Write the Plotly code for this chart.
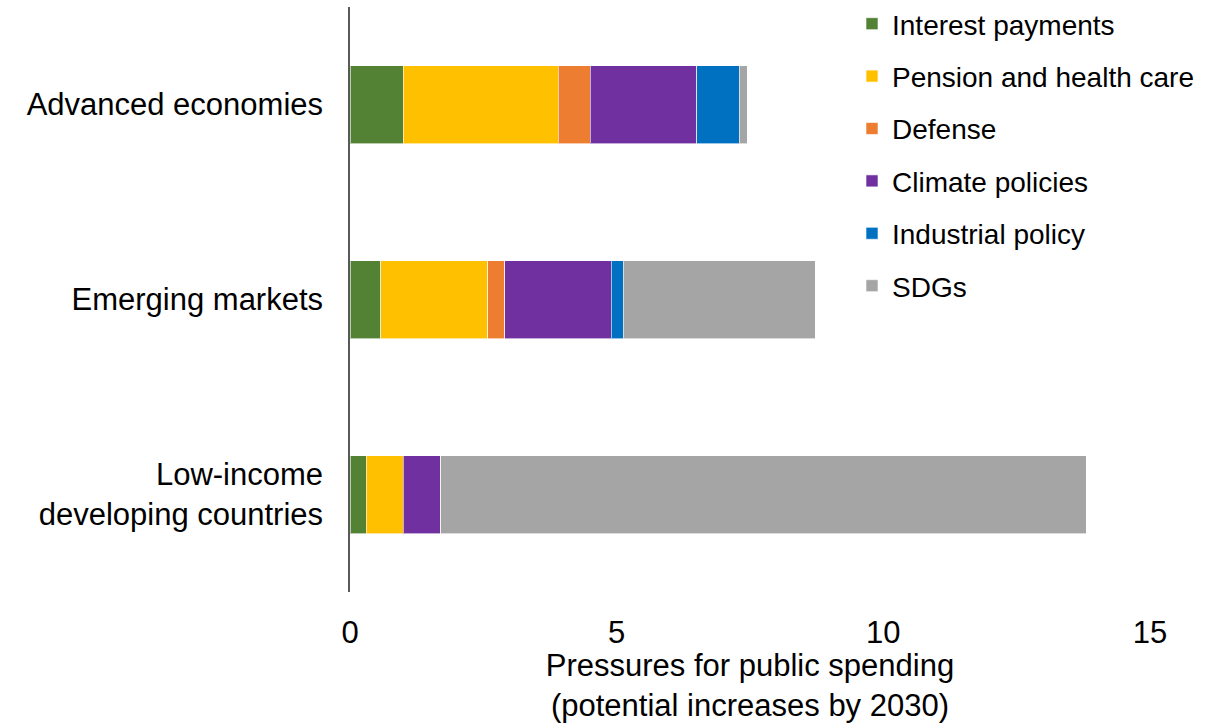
import plotly.graph_objects as go

categories = ["Advanced economies", "Emerging markets", "Low-income<br>developing countries"]
series_names = ["Interest payments", "Pension and health care", "Defense",
                "Climate policies", "Industrial policy", "SDGs"]
interest = [1.0, 0.58, 0.3]
pension = [2.9, 2.0, 0.7]
defense = [0.6, 0.32, 0.0]
climate = [2.0, 2.0, 0.7]
industrial = [0.8, 0.22, 0.0]
sdgs = [0.15, 3.6, 12.1]
colors = ["#548235", "#FFC000", "#ED7D31", "#7030A0", "#0070C0", "#A5A5A5"]
x_ticks = [0, 5, 10, 15]

values = [interest, pension, defense, climate, industrial, sdgs]

fig = go.Figure()
for name, vals, col in zip(series_names, values, colors):
    fig.add_trace(go.Bar(
        y=categories, x=vals, name=name, orientation="h",
        marker=dict(color=col, line=dict(color="rgba(255,255,255,0.6)", width=1)),
        legendgroup=name,
    ))

font = "Liberation Sans, Arial, sans-serif"
fig.update_layout(
    barmode="stack",
    bargap=0.6,
    width=1220, height=723,
    margin=dict(l=350, r=70, t=7, b=131, autoexpand=False),
    plot_bgcolor="white", paper_bgcolor="white",
    font=dict(family=font, size=31, color="black"),
    showlegend=True,
    legend=dict(
        x=0.6275, y=1.0137, xanchor="left", yanchor="top",
        traceorder="grouped", tracegroupgap=13,
        font=dict(size=28, family=font, color="black"),
        bgcolor="rgba(0,0,0,0)", itemwidth=30,
    ),
    xaxis=dict(range=[0, 15], tickvals=x_ticks, showgrid=False, zeroline=False,
               showline=False, ticks="", tickfont=dict(size=31), ticklabelstandoff=19,
               title=dict(text="Pressures for public spending<br>(potential increases by 2030)",
                          font=dict(size=31), standoff=5)),
    yaxis=dict(autorange="reversed", showline=True, linecolor="#595959", linewidth=1.5,
               showgrid=False, ticks="", tickfont=dict(size=31), ticklabelstandoff=19),
)

fig.write_html("out.html")
